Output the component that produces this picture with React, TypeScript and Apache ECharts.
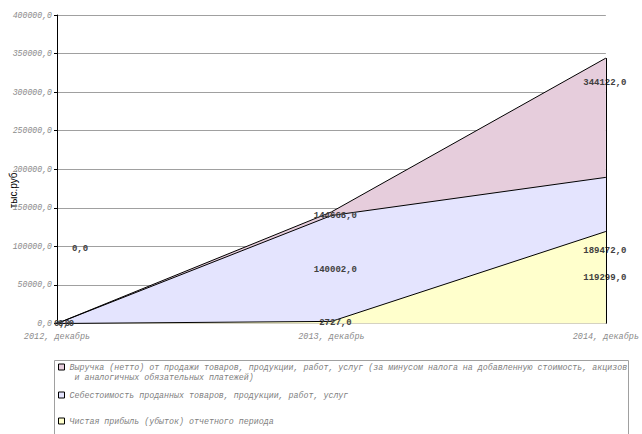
import React, { useEffect, useRef } from "react";
import * as echarts from "echarts";

// Periods (end of year)
const categories = ["2012, декабрь", "2013, декабрь", "2014, декабрь"];

// Values, thousand roubles
const revenue = [0, 144668, 344122];
const costOfSales = [0, 140002, 189472];
const netProfit = [0, 2727, 119299];

const seriesNames = [
  "Выручка (нетто) от продажи товаров, продукции, работ, услуг (за минусом налога на добавленную стоимость, акцизов\n и аналогичных обязательных платежей)",
  "Себестоимость проданных товаров, продукции, работ, услуг",
  "Чистая прибыль (убыток) отчетного периода",
];

const axisMin = 0;
const axisMax = 400000;
const axisStep = 50000;

// Where each value label sits relative to its point
const labelOffsets = {
  revenue: [[23, -75], [4, 4], [-1, 25]],
  cost: [[5, 0], [4, 54], [-1, 74]],
  net: [[9, 0], [4, 2], [-1, 47]],
};

const colors = ["#E6CDDC", "#E4E4FE", "#FFFFCC"];
const mono = "'Liberation Mono', 'Courier New', monospace";

const fmt = (v: number) => `${v},0`;

function areaSeries(name: string, values: number[], offsets: number[][], color: string, extra: any = {}) {
  return {
    name,
    type: "line",
    data: values.map((v, i) => ({ value: v, label: { offset: offsets[i] } })),
    symbol: "circle",
    symbolSize: 0,
    showSymbol: true,
    lineStyle: { color: "#000", width: 1 },
    itemStyle: { color },
    areaStyle: { color, opacity: 1 },
    label: {
      show: true,
      position: "inside",
      formatter: (p: any) => fmt(p.value),
      fontFamily: mono,
      fontWeight: "bold",
      fontSize: 9,
      color: "#404040",
    },
    ...extra,
  };
}

const legendText = {
  fontFamily: mono,
  fontStyle: "italic",
  fontSize: 8.3,
  color: "#808080",
  lineHeight: 10,
};

export default function App() {
  const ref = useRef<HTMLDivElement>(null);

  useEffect(() => {
    if (!ref.current) return;
    const chart = echarts.init(ref.current, undefined, { renderer: "svg" });
    const legendBase = {
      orient: "vertical",
      left: 58,
      padding: 0,
      itemWidth: 6,
      itemHeight: 6,
      icon: "rect",
      itemStyle: { borderColor: "#000", borderWidth: 1 },
      selectedMode: false,
      textStyle: legendText,
    };
    chart.setOption({
      animation: false,
      backgroundColor: "#fff",
      grid: { left: 57, right: 35, top: 15, bottom: 110.5 },
      xAxis: {
        type: "category",
        data: categories,
        boundaryGap: false,
        axisLine: { lineStyle: { color: "#000", width: 1 } },
        axisTick: { show: false },
        axisLabel: {
          fontFamily: mono,
          fontStyle: "italic",
          fontSize: 8.5,
          color: "#8A8A8A",
          margin: 9,
        },
      },
      yAxis: {
        type: "value",
        min: axisMin,
        max: axisMax,
        interval: axisStep,
        axisLine: { show: true, lineStyle: { color: "#000", width: 1 } },
        axisTick: { show: true, length: 3, lineStyle: { color: "#000" } },
        splitLine: { lineStyle: { color: "#A0A0A0", width: 1 } },
        axisLabel: {
          formatter: (v: number) => fmt(v),
          fontFamily: mono,
          fontStyle: "italic",
          fontSize: 8.2,
          color: "#8A8A8A",
          margin: 5,
        },
      },
      legend: [
        {
          ...legendBase,
          top: 352,
          data: [seriesNames[0]],
          // leading blank line keeps the first text line level with the swatch
          formatter: (name: string) => "\n" + name,
        },
        { ...legendBase, top: 390, data: [seriesNames[1]] },
        { ...legendBase, top: 416, data: [seriesNames[2]] },
      ],
      graphic: [
        {
          type: "rect",
          shape: { x: 54.5, y: 360.5, width: 574, height: 80 },
          style: { fill: "none", stroke: "#A0A0A0", lineWidth: 1 },
          silent: true,
        },
        {
          type: "text",
          x: 13,
          y: 189,
          rotation: Math.PI / 2,
          style: {
            text: "тыс.руб.",
            fontFamily: "'Liberation Sans', Arial, sans-serif",
            fontSize: 10,
            fill: "#000",
            align: "center",
            verticalAlign: "middle",
          },
        },
      ],
      series: [
        areaSeries(seriesNames[0], revenue, labelOffsets.revenue, colors[0], {
          markLine: {
            silent: true,
            symbol: "none",
            label: { show: false },
            lineStyle: { color: "#000", width: 1, type: "solid" },
            data: [
              [
                { coord: [categories[2], axisMin] },
                { coord: [categories[2], revenue[2]] },
              ],
            ],
          },
        }),
        areaSeries(seriesNames[1], costOfSales, labelOffsets.cost, colors[1]),
        areaSeries(seriesNames[2], netProfit, labelOffsets.net, colors[2]),
      ],
    });
    return () => chart.dispose();
  }, []);

  return (
    <div
      ref={ref}
      style={{ position: "fixed", left: 0, top: 0, width: 642, height: 434, background: "#fff" }}
    />
  );
}
